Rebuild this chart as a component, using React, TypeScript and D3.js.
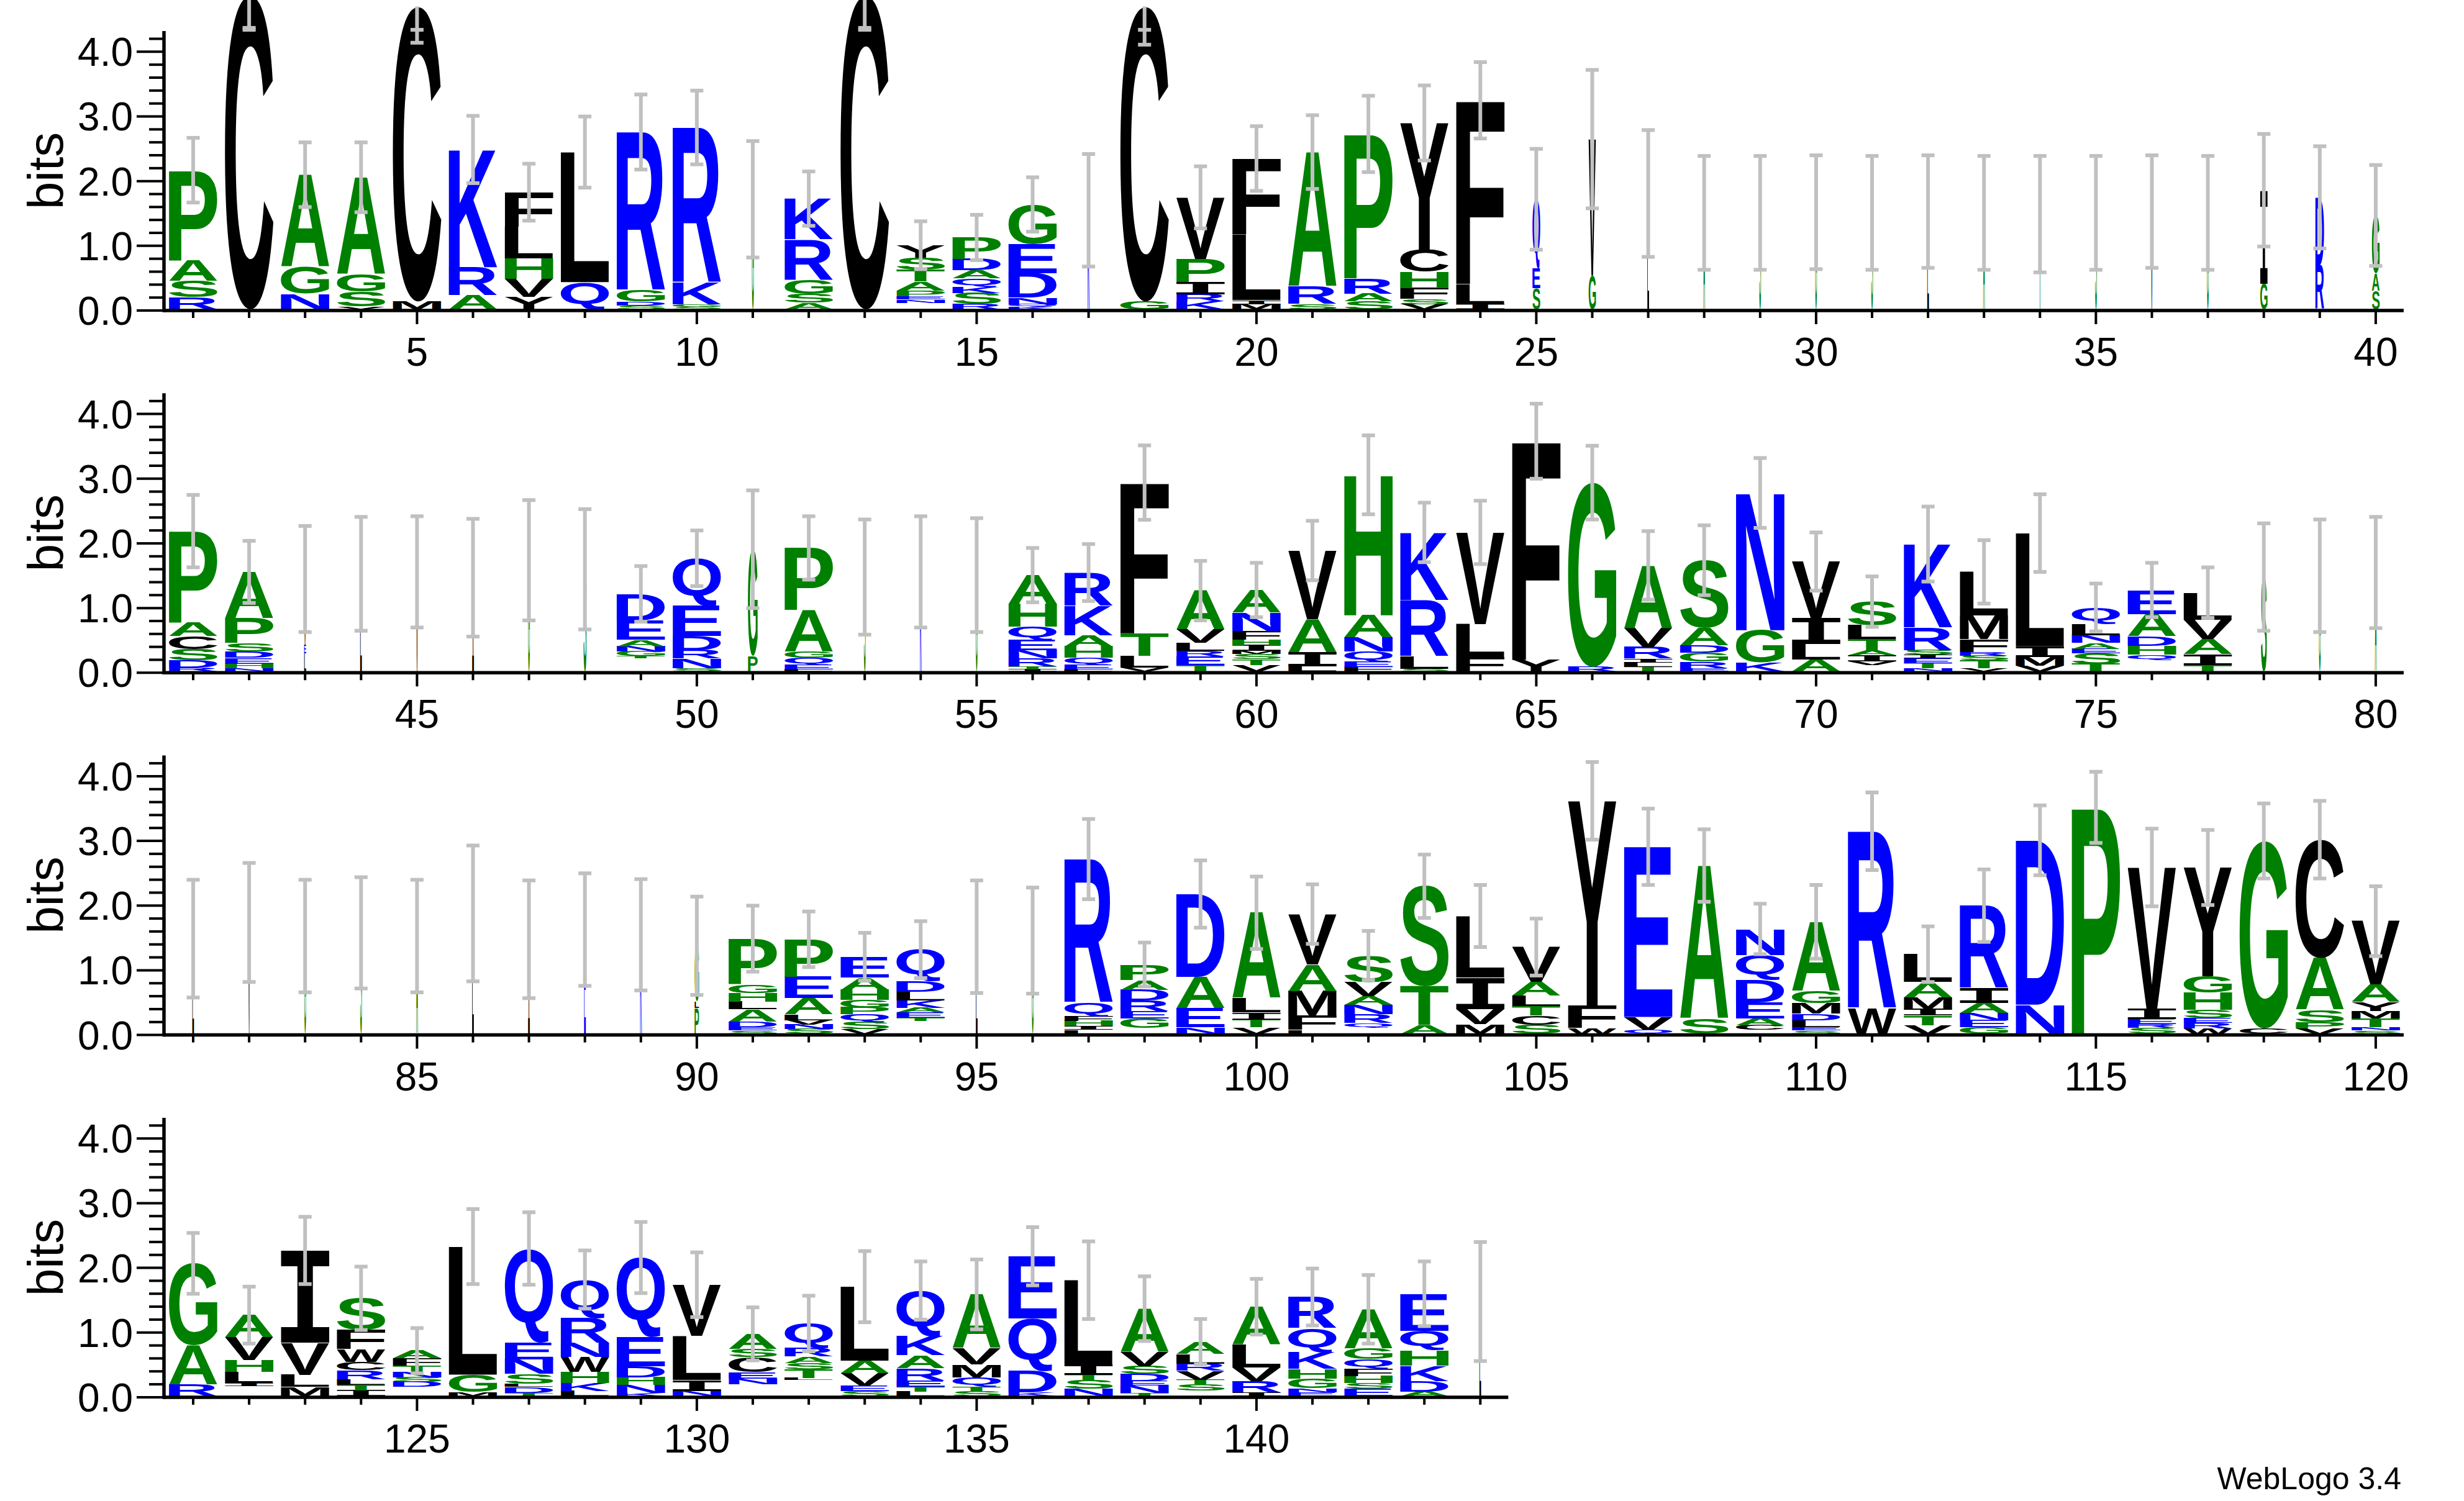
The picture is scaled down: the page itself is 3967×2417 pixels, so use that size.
import React, { useMemo } from "react";
import * as d3 from "d3";

// Letter stacks, bottom to top: [residue, height in bits]. " " = stack of sub-pixel letters.
const stacks: [string, number][][] = [
  [["R", .19], ["S", .25], ["A", .32], ["P", 1.39]],
  [["C", 4.85]],
  [["N", .24], ["G", .41], ["A", 1.43]],
  [["V", .04], ["S", .23], ["G", .27], ["A", 1.5]],
  [["M", .12], ["C", 4.56]],
  [["A", .22], ["R", .43], ["K", 1.82]],
  [["Y", .19], ["V", .28], ["H", .32], ["L", .49], ["F", .53]],
  [["Q", .42], ["L", 2.01]],
  [["S", .06], ["D", .06], ["G", .17], ["R", 2.45]],
  [["S", .04], ["G", .04], ["K", .33], ["R", 2.4]],
  [["G", 1.7]],
  [["A", .1], ["S", .14], ["G", .22], ["R", .62], ["K", .63]],
  [["C", 4.85]],
  [[" ", .1], ["N", .05], ["E", .05], ["P", .09], ["A", .14], ["T", .18], ["S", .19], ["Y", .19]],
  [["R", .08], ["S", .17], ["K", .1], ["Q", .13], ["A", .12], ["D", .18], ["P", .33]],
  [["K", .04], ["Q", .04], ["N", .1], ["D", .38], ["E", .45], ["G", .61]],
  [["K", 1.53]],
  [["G", .12], ["C", 4.56]],
  [["K", .12], ["R", .11], ["I", .19], ["P", .36], ["V", .95]],
  [["M", .08], ["I", .06], ["L", 1.01], ["F", 1.18]],
  [["S", .08], ["R", .27], ["A", 2.08]],
  [["S", .12], ["A", .12], ["R", .24], ["P", 2.23]],
  [["V", .08], ["S", .08], ["F", .17], ["H", .25], ["C", .34], ["Y", 1.96]],
  [["I", .08], ["L", .31], ["F", 2.84]],
  [["S", .33], ["E", .3], ["Q", 1.07]],
  [["G", .52], ["V", 2.11]],
  [["L", 1.79]],
  [["A", 1.49]],
  [["S", 1.49]],
  [["G", 1.5]],
  [["S", 1.49]],
  [["L", 1.51]],
  [["A", 1.49]],
  [["T", 1.47]],
  [["S", 1.49]],
  [["V", 1.51]],
  [["G", 1.49]],
  [["G", .39], ["I", 1.45]],
  [["R", .68], ["D", 1.05]],
  [["S", .29], ["A", .26], ["G", .9]],
  // 41-80
  [["R", .06], ["D", .11], ["S", .18], ["C", .2], ["A", .21], ["P", 1.41]],
  [["N", .05], ["H", .07], ["E", .09], ["D", .1], ["S", .13], ["P", .38], ["A", .72]],
  [["L", .28], ["E", .13], ["V", 1.02]],
  [["L", 1.51]],
  [["V", 1.54]],
  [["I", 1.45]],
  [["G", 1.72]],
  [["S", 1.58]],
  [[" ", .2], ["T", .04], ["G", .07], ["N", .08], ["A", .1], ["E", .3], ["D", .41]],
  [["S", .05], ["N", .15], ["R", .13], ["D", .22], ["E", .47], ["Q", .73]],
  [["P", .24], ["G", 1.65]],
  [["L", .03], ["E", .07], ["Q", .11], ["G", .1], ["A", .64], ["P", .96]],
  [["S", 1.46]],
  [["K", 1.54]],
  [["G", 1.49]],
  [["I", .03], ["T", .05], ["R", .12], ["N", .13], ["E", .16], ["Q", .2], ["H", .36], ["A", .44]],
  [["L", .03], ["E", .07], ["Q", .11], ["H", .18], ["A", .17], ["K", .46], ["R", .51]],
  [["V", .06], ["L", .18], ["T", .35], ["F", 2.33]],
  [["T", .1], ["E", .13], ["R", .09], ["L", .12], ["V", .21], ["A", .6]],
  [["V", .1], ["T", .09], ["S", .08], ["M", .05], ["I", .09], ["H", .08], ["F", .14], ["N", .28], ["A", .35]],
  [["L", .08], ["I", .22], ["A", .51], ["V", 1.06]],
  [["F", .07], ["E", .08], ["Q", .16], ["N", .22], ["A", .34], ["H", 2.17]],
  [["S", .04], ["L", .2], ["R", .87], ["K", 1.04]],
  [["F", .22], ["L", .51], ["V", 1.42]],
  [["Y", .18], ["F", 3.38]],
  [["R", .07], ["G", 2.85]],
  [["T", .07], ["L", .07], ["I", .06], ["R", .18], ["V", .29], ["A", .97]],
  [["E", .05], ["R", .1], ["G", .14], ["D", .11], ["A", .27], ["S", 1.05]],
  [["K", .14], ["G", .5], ["N", 2.12]],
  [["A", .19], ["L", .24], ["I", .4], ["V", .87]],
  [[" ", .1], ["V", .06], ["I", .09], ["A", .07], ["T", .18], ["L", .22], ["S", .36]],
  [["N", .05], ["T", .08], ["E", .07], ["I", .06], ["S", .07], ["R", .35], ["K", 1.29]],
  [["V", .05], ["T", .12], ["S", .07], ["R", .06], ["F", .2], ["M", .37], ["L", .67]],
  [["V", .09], ["M", .13], ["I", .17], ["L", 1.75]],
  [["T", .12], ["S", .16], ["E", .07], ["A", .09], ["N", .12], ["L", .17], ["Q", .26]],
  [[" ", .18], ["Q", .08], ["H", .14], ["D", .15], ["A", .34], ["E", .37]],
  [["T", .1], ["I", .17], ["A", .23], ["V", .3], ["L", .42]],
  [["S", 1.46]],
  [["G", 1.48]],
  [["A", 1.53]],
  // 81-120
  [["L", 1.47]],
  [["V", 1.72]],
  [["G", 1.51]],
  [["S", 1.56]],
  [["A", 1.51]],
  [["L", 1.86]],
  [["I", 1.46]],
  [["E", 1.61]],
  [["K", 1.53]],
  [["P", .4], ["L", .1], ["G", .86]],
  [["S", .05], ["E", .05], ["D", .09], ["A", .19], ["L", .12], ["H", .13], ["G", .13], ["P", .71]],
  [["S", .07], ["N", .07], ["V", .07], ["L", .09], ["A", .25], ["E", .33], ["P", .58]],
  [["V", .07], ["S", .11], ["Q", .12], ["P", .11], ["G", .11], ["H", .16], ["A", .19], ["E", .32]],
  [[" ", .2], ["T", .05], ["E", .08], ["A", .07], ["K", .11], ["L", .14], ["D", .16], ["Q", .49]],
  [["L", 1.5]],
  [["G", 1.44]],
  [["L", .06], ["I", .06], ["H", .08], ["F", .07], ["Q", .21], ["R", 2.22]],
  [[" ", .09], ["G", .15], ["E", .11], ["R", .16], ["D", .17], ["A", .15], ["P", .24]],
  [["N", .1], ["E", .3], ["A", .48], ["D", 1.28]],
  [["V", .1], ["T", .12], ["I", .11], ["L", .22], ["A", 1.32]],
  [["L", .06], ["F", .22], ["M", .38], ["A", .41], ["V", .78]],
  [[" ", .1], ["Q", .07], ["R", .13], ["N", .15], ["A", .13], ["V", .22], ["S", .41]],
  [["A", .13], ["T", .6], ["S", 1.55]],
  [["M", .15], ["V", .23], ["I", .49], ["L", .95]],
  [["S", .14], ["C", .14], ["T", .15], ["L", .16], ["A", .21], ["V", .54]],
  [["W", .09], ["F", .34], ["Y", 3.17]],
  [["Q", .06], ["V", .2], ["E", 2.63]],
  [["S", .23], ["A", 2.37]],
  [[" ", .06], ["C", .07], ["A", .11], ["E", .25], ["D", .34], ["Q", .39], ["N", .4]],
  [["S", .05], ["E", .05], ["L", .11], ["D", .1], ["M", .16], ["G", .19], ["A", 1.07]],
  [["W", .39], ["R", 2.74]],
  [["V", .13], ["T", .15], ["I", .1], ["M", .18], ["A", .24], ["L", .43]],
  [["G", .1], ["E", .11], ["N", .11], ["A", .16], ["I", .23], ["R", 1.27]],
  [["N", .45], ["D", 2.54]],
  [["P", 3.5]],
  [["S", .09], ["R", .06], ["E", .08], ["I", .16], ["V", 2.18]],
  [["W", .08], ["R", .09], ["E", .07], ["S", .13], ["H", .27], ["G", .25], ["Y", 1.68]],
  [["C", .08], ["G", 2.9]],
  [["V", .08], ["P", .1], ["S", .19], ["A", .8], ["C", 1.83]],
  [["S", .05], ["N", .05], ["T", .14], ["M", .11], ["Y", .14], ["A", .27], ["V", .98]],
  // 121-144
  [["R", .18], ["A", .61], ["G", 1.26]],
  [[" ", .15], ["I", .05], ["L", .17], ["H", .19], ["V", .35], ["A", .34]],
  [["M", .14], ["L", .19], ["V", .49], ["I", 1.43]],
  [["I", .09], ["T", .08], ["L", .09], ["R", .14], ["C", .13], ["W", .2], ["F", .29], ["S", .49]],
  [[" ", .14], ["D", .08], ["S", .07], ["N", .08], ["T", .1], ["F", .11], ["A", .12]],
  [["M", .06], ["G", .27], ["L", 1.98]],
  [["T", .05], ["D", .09], ["L", .05], ["S", .15], ["N", .23], ["E", .26], ["Q", 1.45]],
  [["L", .08], ["K", .12], ["H", .17], ["W", .23], ["N", .22], ["R", .38], ["Q", .6]],
  [["K", .05], ["N", .12], ["H", .12], ["D", .17], ["E", .45], ["Q", 1.23]],
  [["N", .08], ["I", .17], ["L", .68], ["V", .79]],
  [[" ", .18], ["N", .09], ["E", .1], ["C", .23], ["S", .13], ["A", .23]],
  [[" ", .25], ["L", .03], ["T", .13], ["S", .1], ["A", .1], ["R", .13], ["Q", .38]],
  [["S", .08], ["E", .08], ["V", .19], ["A", .2], ["L", 1.14]],
  [["L", .07], ["T", .07], ["E", .1], ["R", .19], ["A", .2], ["K", .29], ["Q", .71]],
  [["S", .07], ["T", .07], ["Q", .15], ["M", .2], ["V", .25], ["A", .83]],
  [["K", .06], ["D", .33], ["Q", .81], ["E", .96]],
  [["N", .11], ["S", .14], ["T", .08], ["I", .16], ["L", 1.3]],
  [["T", .05], ["N", .11], ["E", .07], ["D", .11], ["S", .12], ["V", .22], ["A", .67]],
  [[" ", .08], ["S", .1], ["T", .07], ["V", .14], ["R", .11], ["L", .15], ["A", .19]],
  [["I", .06], ["R", .17], ["V", .21], ["L", .36], ["A", .58]],
  [["E", .06], ["N", .06], ["G", .15], ["H", .15], ["K", .26], ["Q", .37], ["R", .48]],
  [["E", .11], ["S", .09], ["H", .11], ["F", .11], ["Q", .15], ["G", .16], ["A", .61]],
  [["A", .07], ["D", .16], ["K", .24], ["H", .24], ["Q", .3], ["E", .57]],
  [["L", 1.46]],
];

// Error bar half-lengths (bits), positions 1..144
const errors: number[] = [
  .5, .5, .5, .54, .56, .52, .44, .55, .58, .57, .9, .42, .5, .37, .35, .42, .87, .59, .48, .5,
  .57, .59, .58, .59, .78, 1.07, .98, .88, .88, .88, .88, .87, .88, .9, .88, .87, .88, .87, .79, .78,
  .56, .48, .82, .88, .86, .91, .93, .93, .43, .43, .91, .49, .89, .86, .88, .42, .44, .575, .46, .42,
  .46, .61, .46, .49, .58, .57, .53, .54, .54, .45, .39, .58, .49, .6, .37, .42, .39, .83, .87, .86,
  .91, .92, .87, .86, .87, 1.05, .91, .87, .86, .76, .51, .43, .37, .44, .87, .82, .62, .34, .52, .56,
  .46, .38, .49, .48, .44, .6, .59, .56, .39, .57, .6, .43, .56, .54, .55, .6, .58, .58, .6, .54,
  .47, .44, .52, .49, .35, .58, .56, .45, .55, .5, .41, .43, .55, .45, .54, .45, .6, .5, .35, .43,
  .44, .53, .5, .92,
];

// Columns drawn narrower (fraction of the full stack width); all others are full width
const narrowColumns: [number, number][] = [
  [11, .04], [17, .04], [25, .16], [26, .15], [27, .035], [28, .035], [29, .035], [30, .035],
  [31, .035], [32, .035], [33, .035], [34, .035], [35, .035], [36, .035], [37, .035], [38, .15],
  [39, .18], [40, .16], [43, .04], [44, .035], [45, .035], [46, .035], [47, .035], [48, .06],
  [51, .2], [53, .035], [54, .035], [55, .035], [78, .12], [79, .035], [80, .035],
  [81, .035], [82, .035], [83, .035], [84, .035], [85, .035], [86, .035], [87, .035], [88, .035],
  [89, .035], [90, .09], [95, .035], [96, .035], [144, .035],
];

const rowFirst = [1, 41, 81, 121];
const rowLast = [40, 80, 120, 144];
const yTicks = [0, 1, 2, 3, 4];
const Y_MAX = 4.32;

const BLUE = "RKDENQ";
const GREEN = "SGHTAP";
const colorOf = (c: string) =>
  BLUE.includes(c) ? "#0000ff" : GREEN.includes(c) ? "#008000" : "#000000";

const W = 3967;
const H = 2417;
const BASE0 = 500;
const ROW_STEP = 583.3;
const PPB = 104.17;
const X0 = 311;
const STEP = 90.1;
const STACK_W = 78;
const GLYPH_FS = 200;
const FONT = '"Liberation Sans", Arial, sans-serif';
const GLYPH_FONT = '"Liberation Sans", Arial, sans-serif';
const SERIF_I_FONT = '"Liberation Mono", "DejaVu Sans Mono", monospace';
const glyphFont = (ch: string) => (ch === "I" ? SERIF_I_FONT : GLYPH_FONT);

export default function App() {
  const metrics = useMemo(() => {
    const canvas = document.createElement("canvas");
    const ctx = canvas.getContext("2d")!;
    const map: Record<string, { l: number; r: number; a: number; d: number }> = {};
    for (const ch of "ACDEFGHIKLMNPQRSTVWY") {
      ctx.font = `bold ${GLYPH_FS}px ${glyphFont(ch)}`;
      const m = ctx.measureText(ch);
      map[ch] = {
        l: m.actualBoundingBoxLeft,
        r: m.actualBoundingBoxRight,
        a: m.actualBoundingBoxAscent,
        d: m.actualBoundingBoxDescent,
      };
    }
    return map;
  }, []);

  const widthMap = new Map(narrowColumns);

  const rows = rowFirst.map((first, ri) => {
    const last = rowLast[ri];
    const base = BASE0 + ri * ROW_STEP;
    const x = d3.scaleLinear().domain([first, first + 39]).range([X0, X0 + 39 * STEP]);
    const y = d3.scaleLinear().domain([0, Y_MAX]).range([base, base - Y_MAX * PPB]);
    const positions = d3.range(first, last + 1);
    const minorY = d3.range(0, 4.21, 0.2);
    const axisLeft = x(first) - 47;
    const axisRight = x(last) + 45;

    const letters: React.ReactNode[] = [];
    const bars: React.ReactNode[] = [];
    positions.forEach((p) => {
      const stack = stacks[p - 1];
      const wf = widthMap.get(p) ?? 1;
      const bw = STACK_W * wf;
      const cx = x(p);
      let cum = 0;
      stack.forEach(([ch, h], li) => {
        const yb = y(cum) - 2;
        const yt = y(cum + h) - 2;
        cum += h;
        if (ch === " ") return;
        const m = metrics[ch];
        const sx = bw / (m.l + m.r);
        const sy = (yb - yt) / (m.a + m.d);
        letters.push(
          <text
            key={`l${p}-${li}`}
            transform={`translate(${cx - bw / 2},${yt}) scale(${sx},${sy}) translate(${m.l},${m.a})`}
            fontFamily={glyphFont(ch)}
            fontWeight="bold"
            fontSize={GLYPH_FS}
            fill={colorOf(ch)}
          >
            {ch}
          </text>
        );
      });
      const e = errors[p - 1];
      const lo = cum - e;
      const hi = Math.min(cum + e, Y_MAX);
      const lineTop = Math.max(hi, cum);
      bars.push(
        <g key={`e${p}`} fill="#c0c0c0" stroke="none">
          <line x1={cx} x2={cx} y1={y(lo) - 2} y2={y(lineTop) - 2} stroke="#c0c0c0" strokeWidth={6} />
          <rect x={cx - 10.5} y={y(lo) - 5} width={21} height={6} />
          <rect x={cx - 10.5} y={y(hi) - 5} width={21} height={6} />
        </g>
      );
    });

    return (
      <g key={`row${ri}`}>
        {letters}
        {bars}
        <line x1={axisLeft} x2={axisRight} y1={base} y2={base} stroke="#000" strokeWidth={5.5} />
        {positions.map((p) => (
          <line
            key={`xt${p}`}
            x1={x(p)}
            x2={x(p)}
            y1={base}
            y2={base + (p % 5 === 0 ? 22 : 12)}
            stroke="#000"
            strokeWidth={4}
          />
        ))}
        {positions
          .filter((p) => p % 5 === 0)
          .map((p) => (
            <text
              key={`xl${p}`}
              x={x(p)}
              y={base + 89}
              textAnchor="middle"
              fontFamily={FONT}
              fontSize={64}
              fill="#000"
            >
              {p}
            </text>
          ))}
        <line x1={axisLeft} x2={axisLeft} y1={base + 2.75} y2={y(Y_MAX)} stroke="#000" strokeWidth={5.5} />
        {minorY.map((v, i) => (
          <line
            key={`ym${i}`}
            x1={axisLeft - (i % 5 === 0 ? 44 : 24)}
            x2={axisLeft}
            y1={y(v)}
            y2={y(v)}
            stroke="#000"
            strokeWidth={4}
          />
        ))}
        {yTicks.map((v) => (
          <text
            key={`yl${v}`}
            x={axisLeft - 50}
            y={y(v) + 23}
            textAnchor="end"
            fontFamily={FONT}
            fontSize={64}
            fill="#000"
          >
            {v.toFixed(1)}
          </text>
        ))}
        <text
          x={101}
          y={base - 225}
          transform={`rotate(-90, 101, ${base - 225})`}
          textAnchor="middle"
          fontFamily={FONT}
          fontSize={80}
          fill="#000"
        >
          bits
        </text>
      </g>
    );
  });

  return (
    <svg
      width={W}
      height={H}
      viewBox={`0 0 ${W} ${H}`}
      style={{ position: "absolute", left: 0, top: 0, background: "#fff" }}
    >
      <rect width={W} height={H} fill="#fff" />
      {rows}
      <text x={3866} y={2398} textAnchor="end" fontFamily={FONT} fontSize={50} fill="#000">
        WebLogo 3.4
      </text>
    </svg>
  );
}
